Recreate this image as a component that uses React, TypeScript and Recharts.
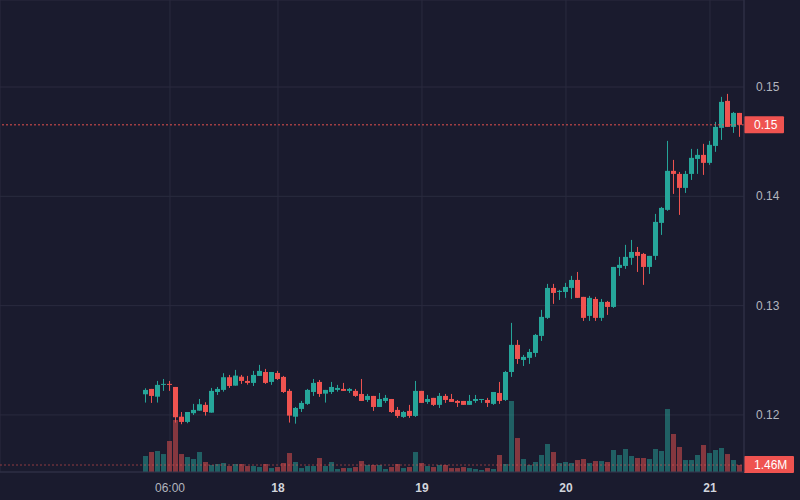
import { ComposedChart, Bar, XAxis, YAxis, CartesianGrid, ReferenceLine } from 'recharts';

// hourly candles, first one at 17th 02:00
const firstHour = 2;

const opens = [
  0.12189, 0.12238, 0.12167, 0.12277, 0.12284, 0.12256, 0.11984, 0.11936, 0.12016, 0.12039,
  0.12092, 0.12021, 0.1221, 0.12229, 0.12345, 0.12268, 0.1235, 0.12311, 0.12293, 0.12357,
  0.12393, 0.12302, 0.12384, 0.12348, 0.1222, 0.11984, 0.12055, 0.12101, 0.1221, 0.12302,
  0.12195, 0.1221, 0.12229, 0.12238, 0.1222, 0.1222, 0.12192, 0.12137, 0.12174, 0.12073,
  0.12128, 0.12146, 0.12046, 0.11982, 0.12037, 0.11991, 0.1222, 0.12119, 0.12156, 0.12092,
  0.12174, 0.12146, 0.12128, 0.12128, 0.12092, 0.12128, 0.12137, 0.12137, 0.12101, 0.12201,
  0.12137, 0.12393, 0.12641, 0.12503, 0.12522, 0.12567, 0.12723, 0.12888, 0.13162, 0.13125,
  0.13125, 0.13162, 0.13235, 0.1308, 0.12906, 0.13061, 0.12888, 0.13034, 0.12988, 0.13345,
  0.13363, 0.13437, 0.13491, 0.13473, 0.13354, 0.13455, 0.13757, 0.13876, 0.14233, 0.14205,
  0.14077, 0.14205, 0.14342, 0.14379, 0.14306, 0.14461, 0.14626, 0.14873, 0.14635, 0.14763,
];
const highs = [
  0.12244, 0.12238, 0.12311, 0.12329, 0.12311, 0.12256, 0.12027, 0.12027, 0.12101, 0.12146,
  0.12116, 0.12247, 0.12256, 0.12382, 0.12366, 0.12412, 0.12366, 0.12357, 0.12403, 0.12458,
  0.12421, 0.12393, 0.12403, 0.12357, 0.12238, 0.12073, 0.12128, 0.12238, 0.12329, 0.1232,
  0.12229, 0.12302, 0.12275, 0.12293, 0.12247, 0.12238, 0.12329, 0.12192, 0.12174, 0.12201,
  0.12183, 0.12146, 0.12073, 0.12037, 0.12092, 0.12311, 0.1222, 0.12183, 0.12156, 0.12201,
  0.12192, 0.12192, 0.12137, 0.12128, 0.12183, 0.12183, 0.12146, 0.12156, 0.1221, 0.12302,
  0.12403, 0.12842, 0.12686, 0.12549, 0.12604, 0.12741, 0.12961, 0.13199, 0.13199, 0.13144,
  0.13208, 0.13272, 0.13308, 0.1308, 0.13089, 0.1308, 0.13061, 0.13043, 0.13354, 0.13446,
  0.13556, 0.13601, 0.13537, 0.13482, 0.13455, 0.13839, 0.13903, 0.14507, 0.14333, 0.14223,
  0.14233, 0.14434, 0.14434, 0.1448, 0.14507, 0.14681, 0.1491, 0.14937, 0.14772, 0.14763,
];
const lows = [
  0.12113, 0.1211, 0.12113, 0.1222, 0.1222, 0.1193, 0.11915, 0.11924, 0.12, 0.12039,
  0.11994, 0.12021, 0.12183, 0.12213, 0.12247, 0.12268, 0.12284, 0.12277, 0.12265, 0.12357,
  0.12284, 0.12275, 0.1232, 0.12201, 0.1193, 0.1192, 0.12027, 0.12092, 0.12174, 0.12165,
  0.12113, 0.12192, 0.12213, 0.1222, 0.12201, 0.12165, 0.12128, 0.12119, 0.12037, 0.12073,
  0.1211, 0.12018, 0.11973, 0.11973, 0.11973, 0.11982, 0.1211, 0.12101, 0.12082, 0.12064,
  0.1211, 0.12119, 0.12073, 0.12092, 0.12092, 0.1211, 0.1211, 0.12073, 0.12092, 0.12101,
  0.12128, 0.12348, 0.12467, 0.12448, 0.12467, 0.12531, 0.12677, 0.12878, 0.13016, 0.13052,
  0.13071, 0.13061, 0.13071, 0.1286, 0.1286, 0.1286, 0.1286, 0.12915, 0.12979, 0.13272,
  0.13336, 0.13373, 0.13308, 0.1319, 0.1329, 0.13418, 0.13647, 0.13867, 0.14022, 0.1383,
  0.14031, 0.1415, 0.14205, 0.14196, 0.14288, 0.14407, 0.14516, 0.14635, 0.1458, 0.14544,
];
const closes = [
  0.12229, 0.12174, 0.12275, 0.12284, 0.12277, 0.11979, 0.11936, 0.12027, 0.12046, 0.12098,
  0.12027, 0.1222, 0.12238, 0.12345, 0.12265, 0.1236, 0.12311, 0.12293, 0.12366, 0.12403,
  0.12293, 0.12393, 0.12329, 0.1221, 0.11994, 0.12064, 0.1211, 0.12229, 0.12293, 0.12192,
  0.12229, 0.12256, 0.12247, 0.1222, 0.12238, 0.12174, 0.12128, 0.12174, 0.12073, 0.12146,
  0.12156, 0.12027, 0.11991, 0.12027, 0.11991, 0.1222, 0.1211, 0.12146, 0.12092, 0.12174,
  0.12137, 0.12119, 0.1211, 0.12092, 0.12128, 0.12146, 0.12146, 0.1211, 0.1221, 0.12128,
  0.12393, 0.12641, 0.12512, 0.12531, 0.12576, 0.12732, 0.12897, 0.13162, 0.13116, 0.13135,
  0.13171, 0.13235, 0.13071, 0.12888, 0.13071, 0.12888, 0.13034, 0.12988, 0.13354, 0.13373,
  0.13446, 0.13491, 0.13455, 0.13354, 0.13455, 0.13766, 0.13894, 0.14233, 0.14205, 0.14077,
  0.14205, 0.14352, 0.14379, 0.14306, 0.14471, 0.14635, 0.14864, 0.14635, 0.14763, 0.14654,
];
// volume in millions
const volumes = [
  3.34, 4.17, 4.38, 3.75, 6.47, 10.85, 3.75, 3.13, 2.71, 4.17,
  2.09, 1.46, 1.67, 1.88, 1.25, 1.67, 1.67, 1.25, 1.25, 1.04,
  1.67, 0.83, 1.04, 1.88, 3.96, 2.09, 0.83, 1.25, 1.25, 2.92,
  1.25, 2.09, 0.63, 0.83, 0.83, 1.04, 2.29, 1.46, 1.46, 1.46,
  0.63, 1.04, 1.67, 0.83, 1.04, 4.17, 1.88, 1.25, 1.04, 1.46,
  1.46, 0.83, 0.83, 1.04, 0.83, 0.63, 0.42, 0.83, 0.63, 3.55,
  1.67, 14.81, 7.09, 2.71, 1.46, 2.09, 3.55, 5.84, 4.17, 1.88,
  2.09, 1.88, 2.5, 2.71, 1.88, 2.29, 2.29, 2.09, 4.59, 3.55,
  4.8, 3.34, 2.92, 2.92, 2.71, 4.8, 4.38, 13.14, 7.93, 5.22,
  2.5, 2.5, 3.55, 5.63, 3.96, 4.59, 5.01, 3.75, 2.5, 1.46,
];

const timeTicks = [6, 24, 48, 72, 96];
const timeLabels = ['06:00', '18', '19', '20', '21'];
const dayTicks = [24, 48, 72, 96];
const priceTicks = [0.12, 0.13, 0.14, 0.15];

const BG = '#1a1b2e';
const GRID = '#2a2b3f';
const BORDER = '#2f3046';
const UP = '#26a69a';
const DOWN = '#ef5350';
const TEXT = '#b2b5be';

const data = opens.map((o, i) => ({
  hour: firstHour + i,
  range: [lows[i], highs[i]],
  open: o,
  high: highs[i],
  low: lows[i],
  close: closes[i],
  volume: volumes[i],
}));

const last = data[data.length - 1];

function Candle(props: any) {
  const { x, y, width, height, payload } = props;
  if (!payload) return null;
  const { open, close, high, low } = payload;
  const color = close >= open ? UP : DOWN;
  const cx = x + width / 2;
  const top = Math.min(y, y + height);
  const h = Math.abs(height);
  const span = high - low;
  const toY = (v: number) => (span === 0 ? top : top + ((high - v) / span) * h);
  const bTop = toY(Math.max(open, close));
  const bBot = toY(Math.min(open, close));
  const bodyW = 5;
  return (
    <g>
      <line x1={cx} x2={cx} y1={top} y2={top + h} stroke={color} strokeWidth={1} />
      <rect x={cx - bodyW / 2} y={bTop} width={bodyW} height={Math.max(1, bBot - bTop)} fill={color} />
    </g>
  );
}

function VolumeBar(props: any) {
  const { x, y, width, height, payload } = props;
  if (!payload) return null;
  const up = payload.close >= payload.open;
  const cx = x + width / 2;
  return (
    <rect
      x={cx - 2.5}
      y={Math.min(y, y + height)}
      width={5}
      height={Math.abs(height)}
      fill={up ? UP : DOWN}
      fillOpacity={0.5}
    />
  );
}

function TimeTick({ x, y, payload }: any) {
  const idx = timeTicks.indexOf(payload.value);
  const isDay = dayTicks.includes(payload.value);
  return (
    <text
      x={x}
      y={y + 18}
      textAnchor="middle"
      fill={isDay ? '#d1d4dc' : TEXT}
      fontSize={12}
      fontWeight={isDay ? 700 : 400}
      fontFamily="'Liberation Sans', Arial, sans-serif"
    >
      {timeLabels[idx]}
    </text>
  );
}

function PriceTick({ x, y, payload }: any) {
  return (
    <text
      x={x + 10}
      y={y + 4}
      textAnchor="start"
      fill={TEXT}
      fontSize={12}
      fontFamily="'Liberation Sans', Arial, sans-serif"
    >
      {payload.value.toFixed(2)}
    </text>
  );
}

function Tag({ viewBox, text, w, maxBottom }: any) {
  if (!viewBox) return null;
  const left = viewBox.x + viewBox.width;
  let top = viewBox.y - 8.5;
  if (maxBottom && top + 17 > maxBottom) top = maxBottom - 16;
  return (
    <g>
      <rect x={left} y={top} width={w} height={17} fill={DOWN} rx={1} />
      <text
        x={left + 10}
        y={top + 12.5}
        fill="#ffffff"
        fontSize={12}
        fontFamily="'Liberation Sans', Arial, sans-serif"
      >
        {text}
      </text>
    </g>
  );
}

export default function App() {
  return (
    <div style={{ width: 800, height: 500, background: BG }}>
      <style>{'body{margin:0;}'}</style>
      <ComposedChart
        width={800}
        height={500}
        data={data}
        margin={{ top: 0, right: 0, bottom: 0, left: 0 }}
      >
        <CartesianGrid xAxisId="price" yAxisId="price" stroke={GRID} />
        <XAxis
          xAxisId="price"
          dataKey="hour"
          type="number"
          domain={[-22.333, 101.667]}
          allowDataOverflow
          ticks={timeTicks}
          interval={0}
          height={28}
          axisLine={{ stroke: BORDER }}
          tickLine={false}
          tickSize={0}
          tick={<TimeTick />}
        />
        <XAxis
          xAxisId="vol"
          dataKey="hour"
          type="number"
          domain={[-22.333, 101.667]}
          allowDataOverflow
          hide
        />
        <YAxis
          yAxisId="price"
          orientation="right"
          domain={[0.11478, 0.15796]}
          allowDataOverflow
          ticks={priceTicks}
          interval={0}
          width={56}
          axisLine={{ stroke: BORDER }}
          tickLine={false}
          tickSize={0}
          tick={<PriceTick />}
        />
        <YAxis yAxisId="vol" domain={[0, 98.46]} allowDataOverflow hide />
        <Bar
          xAxisId="vol"
          yAxisId="vol"
          dataKey="volume"
          barSize={5}
          shape={<VolumeBar />}
          isAnimationActive={false}
        />
        <ReferenceLine
          xAxisId="vol"
          yAxisId="vol"
          y={last.volume}
          stroke={DOWN}
          strokeOpacity={0.55}
          strokeDasharray="2 2"
          label={<Tag text="1.46M" w={50} maxBottom={472} />}
        />
        <Bar
          xAxisId="price"
          yAxisId="price"
          dataKey="range"
          barSize={5}
          shape={<Candle />}
          isAnimationActive={false}
        />
        <ReferenceLine
          xAxisId="price"
          yAxisId="price"
          y={last.close}
          stroke={DOWN}
          strokeOpacity={0.95}
          strokeDasharray="2 2"
          label={<Tag text="0.15" w={40} />}
        />
      </ComposedChart>
    </div>
  );
}
